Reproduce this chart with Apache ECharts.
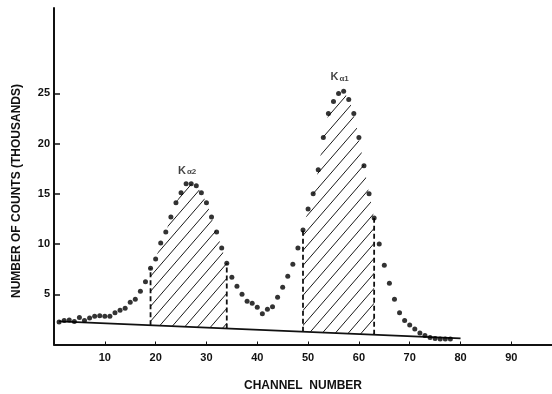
<!DOCTYPE html>
<html><head><meta charset="utf-8">
<script src="https://cdn.jsdelivr.net/npm/echarts@6/dist/echarts.min.js"></script>
<style>html,body{margin:0;padding:0;background:#fff}#c{width:552px;height:394px}</style>
</head><body><div id="c"></div>
<script>
// ---- data ----
const channels = [1,2,3,4,5,6,7,8,9,10,11,12,13,14,15,16,17,18,19,20,21,22,23,24,25,26,27,28,29,30,31,32,33,34,35,36,37,38,39,40,41,42,43,44,45,46,47,48,49,50,51,52,53,54,55,56,57,58,59,60,61,62,63,64,65,66,67,68,69,70,71,72,73,74,75,76,77,78];
const counts = [2.25,2.38,2.45,2.28,2.7,2.38,2.65,2.8,2.85,2.8,2.8,3.15,3.4,3.6,4.2,4.5,5.3,6.25,7.6,8.5,10.1,11.2,12.7,14.1,15.1,16.0,16.0,15.8,15.1,14.1,12.7,11.2,9.6,8.1,6.7,5.8,5.0,4.3,4.1,3.7,3.05,3.5,3.75,4.7,5.7,6.8,8.0,9.6,11.4,13.5,15.0,17.4,20.6,23.0,24.2,25.0,25.2,24.4,23.0,20.6,17.8,15.0,12.6,10.0,7.9,6.1,4.5,3.15,2.4,1.95,1.55,1.15,0.9,0.7,0.6,0.55,0.55,0.55];
const baselineStart = [1, 2.3];
const baselineEnd = [80, 0.6];
const hatchStart = [19, 49];
const hatchEnd = [34, 63];
const xTickLabels = [10,20,30,40,50,60,70,80,90];
const yTickLabels = [5,10,15,20,25];
const peakNames = ['2', '1'];
const peakChannels = [26.2, 56.2];
const peakHeights = [17.4, 26.7];

// ---- helpers ----
function base(c){
  const t = (c - baselineStart[0]) / (baselineEnd[0] - baselineStart[0]);
  return baselineStart[1] + t * (baselineEnd[1] - baselineStart[1]);
}
function countAt(c){ return counts[channels.indexOf(c)]; }

function hatchPattern(){
  const w = 13, h = 15;
  const cv = document.createElement('canvas');
  cv.width = w; cv.height = h;
  const g = cv.getContext('2d');
  g.strokeStyle = '#1a1a1a';
  g.lineWidth = 1;
  g.beginPath();
  for (const k of [-1, 0, 1]) {
    g.moveTo(k * w - w, 2 * h);
    g.lineTo(k * w + 2 * w, -h);
  }
  g.stroke();
  return cv;
}
const pattern = hatchPattern();
const FONT = 'Liberation Sans';
const INK = '#111';

const series = [];
// hatched regions between the background line and the measured curve
series.push({
  type: 'custom', silent: true, z: 2,
  renderItem: function (params, api) {
    const i = api.value(0);
    const xs = channels.filter(c => c >= hatchStart[i] && c <= hatchEnd[i]);
    const top = xs.map(c => api.coord([c, countAt(c)]));
    const bot = xs.slice().reverse().map(c => api.coord([c, base(c)]));
    return {
      type: 'polygon',
      shape: { points: top.concat(bot) },
      style: { fill: { image: pattern, repeat: 'repeat' }, stroke: null }
    };
  },
  data: hatchStart.map((s, i) => [i])
});
hatchStart.forEach((s, i) => {
  [s, hatchEnd[i]].forEach(c => {
    series.push({
      type: 'line', symbol: 'none', silent: true, z: 4,
      lineStyle: { color: INK, width: 1.8, type: [5, 3] },
      data: [[c, base(c)], [c, countAt(c)]]
    });
  });
});
// background line
series.push({
  type: 'line', symbol: 'none', silent: true, z: 4,
  lineStyle: { color: INK, width: 1.8 },
  data: [baselineStart, baselineEnd]
});
// measured points
series.push({
  type: 'scatter', symbol: 'circle', symbolSize: 5, z: 5,
  itemStyle: { color: '#000' },
  data: channels.map((c, i) => [c, counts[i]])
});
// peak labels
series.push({
  type: 'scatter', symbolSize: 0, z: 6, silent: true,
  label: {
    show: true, position: 'inside',
    formatter: p => '{k|K}{s|α' + p.data[2] + '}',
    rich: {
      k: { fontFamily: FONT, fontWeight: 'bold', fontSize: 11, color: INK, verticalAlign: 'bottom' },
      s: { fontFamily: FONT, fontWeight: 'bold', fontSize: 8, color: INK, padding: [5, 0, 0, 1], verticalAlign: 'bottom' }
    }
  },
  data: peakChannels.map((c, i) => [c, peakHeights[i], peakNames[i]])
});

const chart = echarts.init(document.getElementById('c'), null, { renderer: 'canvas' });
chart.setOption({
  animation: false,
  backgroundColor: '#fff',
  grid: { left: 54, right: 0, top: 8, bottom: 49.5, containLabel: false, outerBoundsMode: 'none' },
  xAxis: {
    type: 'value', min: 0, max: 98, interval: 10,
    name: 'CHANNEL  NUMBER', nameLocation: 'middle', nameGap: 35,
    nameTextStyle: { fontFamily: FONT, fontWeight: 'bold', fontSize: 12, color: INK },
    axisLine: { show: true, lineStyle: { color: INK, width: 2 } },
    axisTick: { show: true, inside: true, length: 3, lineStyle: { color: INK, width: 1 }, customValues: xTickLabels },
    axisLabel: { fontFamily: FONT, fontWeight: 'bold', fontSize: 11, color: INK, margin: 8, customValues: xTickLabels },
    splitLine: { show: false }
  },
  yAxis: {
    type: 'value', min: 0, max: 33.5, interval: 5,
    axisLine: { show: true, lineStyle: { color: INK, width: 2 } },
    axisTick: { show: true, inside: true, length: 6, lineStyle: { color: INK, width: 1.5 }, customValues: yTickLabels },
    axisLabel: { fontFamily: FONT, fontWeight: 'bold', fontSize: 11, color: INK, margin: 4, customValues: yTickLabels },
    splitLine: { show: false }
  },
  graphic: [{
    type: 'text', x: 17, y: 191, rotation: Math.PI / 2,
    style: { text: 'NUMBER OF COUNTS (THOUSANDS)', font: 'bold 12px "Liberation Sans"', fill: INK, textAlign: 'center', textVerticalAlign: 'middle' }
  }],
  series: series
});
</script>
</body></html>
